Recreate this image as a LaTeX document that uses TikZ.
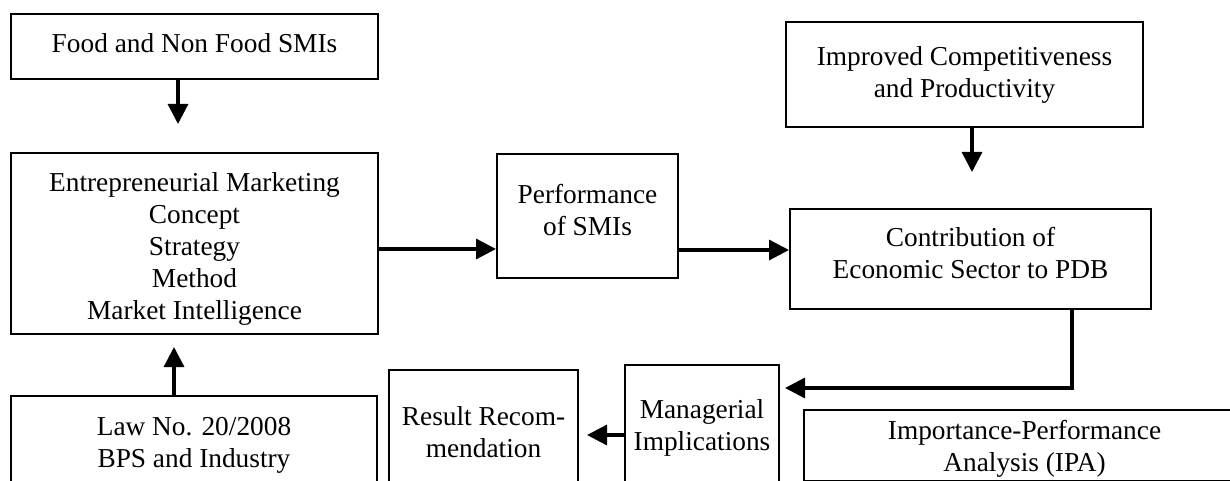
\documentclass[tikz,border=0pt]{standalone}
\usepackage{fontspec}
\setmainfont{Liberation Serif}
\usetikzlibrary{arrows.meta}
\tikzset{
  box/.style={draw=black, line width=1.5pt, rectangle, inner sep=0pt},
  txt/.style={align=center, inner sep=0pt, font=\fontsize{20.5}{24}\selectfont},
  arr/.style={line width=2.4pt, -{Triangle[length=15pt,width=15pt]}},
}
\begin{document}
\begin{tikzpicture}[x=0.75pt,y=-0.75pt]
\useasboundingbox (0,0) rectangle (1230,481);
\fill[white] (0,0) rectangle (1230,481);

\node[box, minimum width=275.25pt, minimum height=48.75pt,
  label={[txt,yshift=2.25pt]center:{Food and Non Food SMIs}}] (A) at (194.5,46.5) {};
\node[box, minimum width=275.25pt, minimum height=135.75pt,
  label={[txt,yshift=-3.75pt]center:{Entrepreneurial Marketing\\Concept\\Strategy\\Method\\Market Intelligence}}] (B) at (194.5,243.5) {};
\node[box, minimum width=135.75pt, minimum height=93pt,
  label={[txt,yshift=4.5pt]center:{Performance\\of SMIs}}] (P) at (587.5,216) {};
\node[box, minimum width=267.75pt, minimum height=78.75pt,
  label={[txt]center:{Improved Competitiveness\\and Productivity}}] (I) at (964.5,74.5) {};
\node[box, minimum width=270.75pt, minimum height=75pt,
  label={[txt,yshift=4.5pt]center:{Contribution of\\Economic Sector to PDB}}] (C) at (970.5,259) {};
\node[box, minimum width=115.5pt, minimum height=91.5pt,
  label={[txt,yshift=-1.5pt]center:{Managerial\\Implications}}] (M) at (702,426) {};
\node[box, minimum width=141.75pt, minimum height=93pt,
  label={[txt]center:{Result Recom-\\mendation}}] (R) at (483.5,432) {};
\node[box, minimum width=274.5pt, minimum height=69pt,
  label={[txt,yshift=-2.25pt]center:{Law No. 20/2008\\BPS and Industry}}] (L) at (194,442) {};
\node[box, minimum width=330.75pt, minimum height=53.25pt,
  label={[txt,yshift=-2.25pt]center:{Importance-Performance\\Analysis (IPA)}}] (IPA) at (1024.5,445.5) {};

\coordinate (aEnd) at (178,124);
\coordinate (lEnd) at (174,347);
\coordinate (iEnd) at (972,172);
\coordinate (cStart) at (1072,309);
\coordinate (cEnd) at (785,388);
\coordinate (mEnd) at (587,435);

\draw[arr] (aEnd |- A.south) -- (aEnd);
\draw[arr] (lEnd |- L.north) -- (lEnd);
\draw[arr] (B.east |- 0,249) -- (P.west |- 0,249);
\draw[arr] (P.east |- 0,250) -- (C.west |- 0,250);
\draw[arr] (iEnd |- I.south) -- (iEnd);
\draw[arr] (cStart |- C.south) -- (cStart |- cEnd) -- (cEnd);
\draw[arr] (M.west |- mEnd) -- (mEnd);
\end{tikzpicture}
\end{document}
